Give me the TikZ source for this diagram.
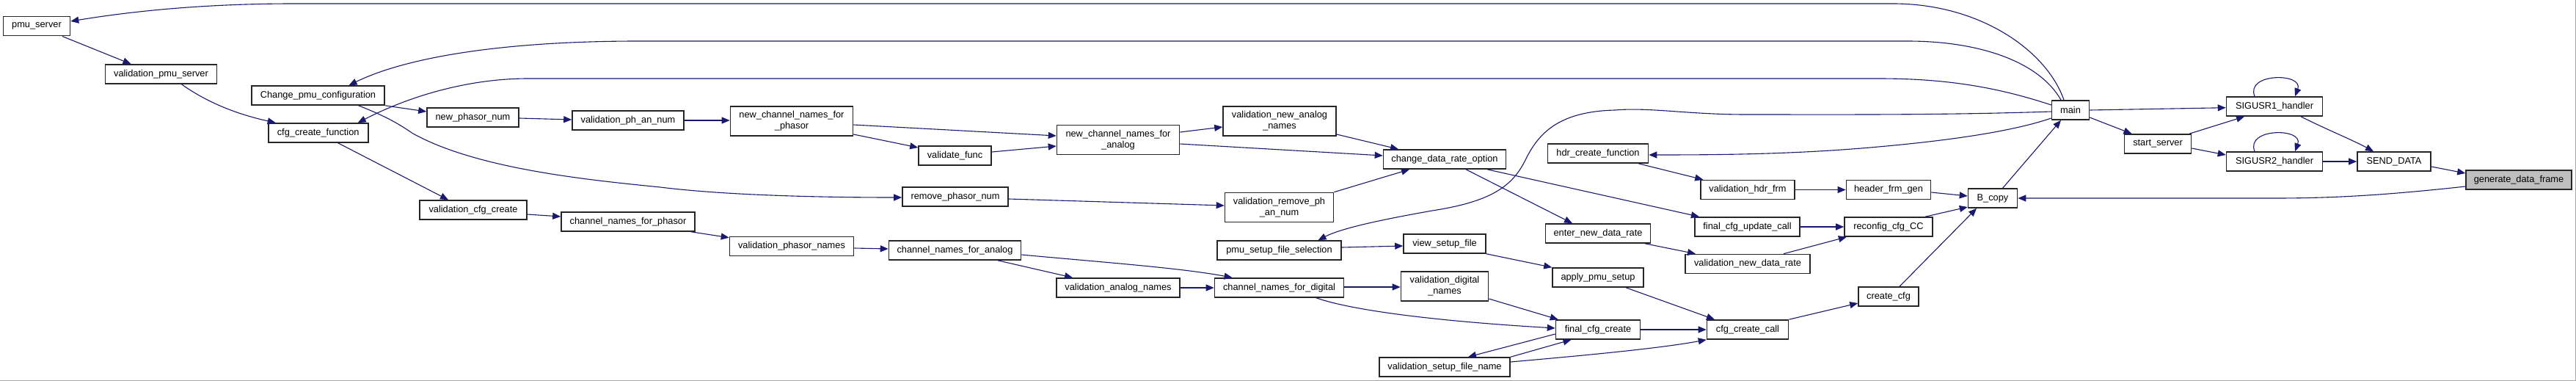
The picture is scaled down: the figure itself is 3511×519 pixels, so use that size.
\documentclass[tikz,border=0pt]{standalone}
\usepackage{fontspec}
\setmainfont{Liberation Sans}
\usetikzlibrary{arrows.meta,calc}
\definecolor{navy}{HTML}{191970}
\definecolor{focus}{HTML}{BFBFBF}
\begin{document}
\begin{tikzpicture}[x=1pt,y=-1pt,
  fn/.style={draw=black!85, line width=1.6pt, fill=white, rectangle, inner sep=0pt,
    minimum height=26pt, align=center, font=\fontsize{12.8}{15}\selectfont},
  fn2/.style={fn, minimum height=40pt},
  edge/.style={draw=navy, line width=1.1pt, -{Triangle[length=11pt,width=9pt]}}]
\useasboundingbox (0,0) rectangle (3511,519);
\fill[white] (0,0) rectangle (3511,519);
\draw[gray!70, line width=1pt] (0,518) -- (3510,518) -- (3510,0);
% nodes
\node[fn,minimum width=91pt] (pmuserver) at (50,35.7) {pmu\_server};
\node[fn,minimum width=152pt] (valpmu) at (219.5,101) {validation\_pmu\_server};
\node[fn,minimum width=181pt] (chpmu) at (433.5,130) {Change\_pmu\_configuration};
\node[fn,minimum width=136pt] (cfgcf) at (433.7,181) {cfg\_create\_function};
\node[fn,minimum width=125pt] (newph) at (644.5,160) {new\_phasor\_num};
\node[fn,minimum width=152pt] (valphan) at (856,164) {validation\_ph\_an\_num};
\node[fn,minimum width=146pt] (valcfgc) at (645,286) {validation\_cfg\_create};
\node[fn,minimum width=182pt] (cnphasor) at (856,302) {channel\_names\_for\_phasor};
\node[fn2,minimum width=167pt] (ncnphasor) at (1079,165) {new\_channel\_names\_for\\\_phasor};
\node[fn,minimum width=99pt] (valfunc) at (1301.5,212) {validate\_func};
\node[fn2,minimum width=167pt] (ncnanalog) at (1524,190.5) {new\_channel\_names\_for\\\_analog};
\node[fn2,minimum width=154pt] (valnewan) at (1744,165) {validation\_new\_analog\\\_names};
\node[fn,minimum width=144pt] (rmph) at (1302,268) {remove\_phasor\_num};
\node[fn2,minimum width=148pt] (valrmph) at (1743.5,282.5) {validation\_remove\_ph\\\_an\_num};
\node[fn,minimum width=169pt] (valphnames) at (1079,335.5) {validation\_phasor\_names};
\node[fn,minimum width=180pt] (cnanalog) at (1301.5,341) {channel\_names\_for\_analog};
\node[fn,minimum width=168pt] (valannames) at (1524,392) {validation\_analog\_names};
\node[fn,minimum width=176pt] (cndigital) at (1743.5,392) {channel\_names\_for\_digital};
\node[fn,minimum width=169pt] (pmusetup) at (1743.5,341) {pmu\_setup\_file\_selection};
\node[fn,minimum width=167pt] (cdro) at (1969,217) {change\_data\_rate\_option};
\node[fn,minimum width=137pt] (hdrcf) at (2178,209) {hdr\_create\_function};
\node[fn,minimum width=128pt] (valhdr) at (2382,258.5) {validation\_hdr\_frm};
\node[fn,minimum width=115pt] (hdrgen) at (2574,258.5) {header\_frm\_gen};
\node[fn,minimum width=67pt] (bcopy) at (2716,270) {B\_copy};
\node[fn,minimum width=143pt] (enterndr) at (2178,318) {enter\_new\_data\_rate};
\node[fn,minimum width=143.5pt] (fcfgupd) at (2381.5,309) {final\_cfg\_update\_call};
\node[fn,minimum width=120pt] (reconfig) at (2574,309) {reconfig\_cfg\_CC};
\node[fn,minimum width=169.5pt] (valndr) at (2382,359.5) {validation\_new\_data\_rate};
\node[fn,minimum width=112pt] (viewsetup) at (1969,332) {view\_setup\_file};
\node[fn,minimum width=124pt] (applypmu) at (2178,378) {apply\_pmu\_setup};
\node[fn2,minimum width=119pt] (valdignames) at (1969,390) {validation\_digital\\\_names};
\node[fn,minimum width=115pt] (fcfgcreate) at (2178,449) {final\_cfg\_create};
\node[fn,minimum width=111pt] (cfgcall) at (2382,449) {cfg\_create\_call};
\node[fn,minimum width=82pt] (createcfg) at (2574,404) {create\_cfg};
\node[fn,minimum width=178.5pt] (valsetupfn) at (1969,500) {validation\_setup\_file\_name};
\node[fn,minimum width=51pt] (main) at (2822,150) {main};
\node[fn,minimum width=131pt] (sig1) at (3100,145) {SIGUSR1\_handler};
\node[fn,minimum width=91pt] (startsrv) at (2941,196) {start\_server};
\node[fn,minimum width=131pt] (sig2) at (3100,220) {SIGUSR2\_handler};
\node[fn,minimum width=100pt] (senddata) at (3263,220) {SEND\_DATA};
\node[fn,minimum width=144pt,fill=focus] (gdf) at (3433,245) {generate\_data\_frame};
% edges: right part
\draw[edge] ($(gdf.west)+(0,9)$) .. controls (3250,266) and (3180,270) .. (3100,270) -- (bcopy.east);
\draw[edge] ($(senddata.east)+(0,7)$) -- ($(gdf.west)+(0,-9)$);
\draw[edge] ($(sig1.south)+(36,0)$) .. controls (3170,176) and (3205,190) .. ($(senddata.north)+(-28,0)$);
\draw[edge] (sig2.east) -- (senddata.west);
\draw[edge] ($(sig1.north)+(-27,0)$) .. controls (3060,99) and (3140,99) .. ($(sig1.north)+(28,0)$);
\draw[edge] ($(sig2.north)+(-27,0)$) .. controls (3060,174) and (3140,174) .. ($(sig2.north)+(28,0)$);
\draw[edge] (main.east) -- ($(sig1.west)+(0,1.7)$);
\draw[edge] ($(main.east)+(0,10)$) -- ($(startsrv.north)+(-35.5,0)$);
\draw[edge] ($(startsrv.north)+(43,0)$) -- ($(sig1.south)+(-41,0)$);
\draw[edge] ($(startsrv.east)+(0,6)$) -- ($(sig2.west)+(0,-9)$);
\draw[edge] ($(bcopy.north)+(13.6,0)$) -- ($(main.south)+(-13,0)$);
% edges from main to the far left
\draw[edge] ($(main.north)+(-9,0)$) .. controls (2790,70) and (2700,5) .. (2580,5) -- (400,5) .. controls (300,5) and (200,12) .. ($(pmuserver.east)+(0,-6.7)$);
\draw[edge] ($(main.north)+(-13,0)$) .. controls (2780,85) and (2700,56) .. (2600,56) -- (870,56) .. controls (700,56) and (560,75) .. ($(chpmu.north)+(42,0)$);
\draw[edge] ($(main.west)+(0,-7)$) .. controls (2720,118) and (2650,107) .. (2560,107) -- (720,107) .. controls (640,107) and (560,130) .. ($(cfgcf.north)+(54,0)$);
\draw[edge] ($(main.west)+(0,2)$) .. controls (2650,157) and (2500,156) .. (2380,156) .. controls (2300,156) and (2250,146) .. (2201,150) .. controls (2120,152) and (2095,185) .. (2078,220) .. controls (2060,255) and (2030,275) .. (1952,287) .. controls (1890,298) and (1830,310) .. ($(pmusetup.north)+(53,0)$);
\draw[edge] ($(main.west)+(0,11)$) .. controls (2740,180) and (2650,192) .. (2560,200) .. controls (2450,210) and (2350,211) .. ($(hdrcf.east)+(0,2)$);
% edges: left part
\draw[edge] ($(pmuserver.south)+(35,0)$) -- ($(valpmu.north)+(-41,0)$);
\draw[edge] ($(valpmu.south)+(28,0)$) .. controls (280,138) and (320,155) .. ($(cfgcf.north)+(-58,0)$);
\draw[edge] (chpmu.south east) -- ($(newph.west)+(0,-8)$);
\draw[edge] ($(chpmu.south)+(55,0)$) .. controls (530,160) and (545,170) .. (563,182) .. controls (650,230) and (800,245) .. (900,255) .. controls (980,265) and (1100,269) .. ($(rmph.west)+(0,1)$);
\draw[edge] ($(cfgcf.south)+(27,0)$) -- ($(valcfgc.north)+(-34,0)$);
\draw[edge] ($(newph.east)+(0,1)$) -- ($(valphan.west)+(0,-1)$);
\draw[edge] ($(valcfgc.east)+(0,6)$) -- ($(cnphasor.west)+(0,-7)$);
\draw[edge] (valphan.east) -- ($(ncnphasor.west)+(0,-1)$);
\draw[edge] ($(ncnphasor.east)+(0,5)$) -- ($(ncnanalog.west)+(0,-5.5)$);
\draw[edge] ($(ncnphasor.east)+(0,18)$) -- ($(valfunc.west)+(0,-11)$);
\draw[edge] ($(valfunc.east)+(0,-5)$) -- ($(ncnanalog.west)+(0,8.5)$);
\draw[edge] ($(ncnanalog.east)+(0,-10.5)$) -- ($(valnewan.west)+(0,8)$);
\draw[edge] ($(ncnanalog.east)+(0,5.5)$) -- ($(cdro.west)+(0,-5)$);
\draw[edge] ($(valnewan.east)+(0,18)$) -- ($(cdro.north)+(-63,0)$);
\draw[edge] ($(rmph.east)+(0,3)$) -- ($(valrmph.west)+(0,-2.5)$);
\draw[edge] (valrmph.north east) -- ($(cdro.south)+(-48,0)$);
\draw[edge] ($(cnphasor.south)+(86,0)$) -- ($(valphnames.north west)+(0,2)$);
\draw[edge] ($(valphnames.east)+(0,2.5)$) -- ($(cnanalog.west)+(0,-2)$);
\draw[edge] ($(cnanalog.south)+(58.5,0)$) -- ($(valannames.north)+(-62,0)$);
\draw[edge] ($(cnanalog.east)+(0,6)$) .. controls (1500,357) and (1610,365) .. ($(cndigital.north)+(-64,0)$);
\draw[edge] (valannames.east) -- (cndigital.west);
\draw[edge] ($(cndigital.east)+(0,-1)$) -- ($(valdignames.west)+(0,1)$);
\draw[edge] ($(cndigital.south)+(50.5,0)$) .. controls (1840,422) and (1950,437) .. ($(fcfgcreate.west)+(0,-2)$);
\draw[edge] ($(pmusetup.east)+(0,-4)$) -- ($(viewsetup.west)+(0,3)$);
\draw[edge] (viewsetup.south east) -- (applypmu.north west);
\draw[edge] ($(applypmu.south)+(38,0)$) -- ($(cfgcall.north)+(-45,0)$);
\draw[edge] ($(valdignames.east)+(0,17)$) -- ($(fcfgcreate.north west)+(4,0)$);
\draw[edge] (fcfgcreate.east) -- (cfgcall.west);
\draw[edge] ($(fcfgcreate.west)+(0,6)$) -- ($(valsetupfn.north)+(32,0)$);
\draw[edge] (valsetupfn.north east) -- ($(fcfgcreate.south)+(-36.5,0)$);
\draw[edge] ($(valsetupfn.east)+(0,-7)$) .. controls (2150,485) and (2260,475) .. (cfgcall.south west);
\draw[edge] (cfgcall.north east) -- ($(createcfg.west)+(0,9)$);
\draw[edge] ($(createcfg.north)+(15,0)$) -- ($(bcopy.south)+(-22,0)$);
\draw[edge] ($(hdrcf.south)+(55,0)$) -- ($(valhdr.north west)+(4,0)$);
\draw[edge] (valhdr.east) -- (hdrgen.west);
\draw[edge] ($(hdrgen.east)+(0,3.5)$) -- ($(bcopy.west)+(0,-3)$);
\draw[edge] ($(cdro.south)+(29,0)$) -- ($(enterndr.north)+(-35,0)$);
\draw[edge] ($(cdro.south)+(58,0)$) -- ($(fcfgupd.north west)+(7,0)$);
\draw[edge] ($(enterndr.south)+(64,0)$) -- ($(valndr.north)+(-71,0)$);
\draw[edge] (fcfgupd.east) -- (reconfig.west);
\draw[edge] ($(valndr.north)+(49,0)$) -- ($(reconfig.south west)+(3.6,0)$);
\draw[edge] ($(reconfig.north)+(50,0)$) -- ($(bcopy.west)+(0,12)$);
\end{tikzpicture}
\end{document}
